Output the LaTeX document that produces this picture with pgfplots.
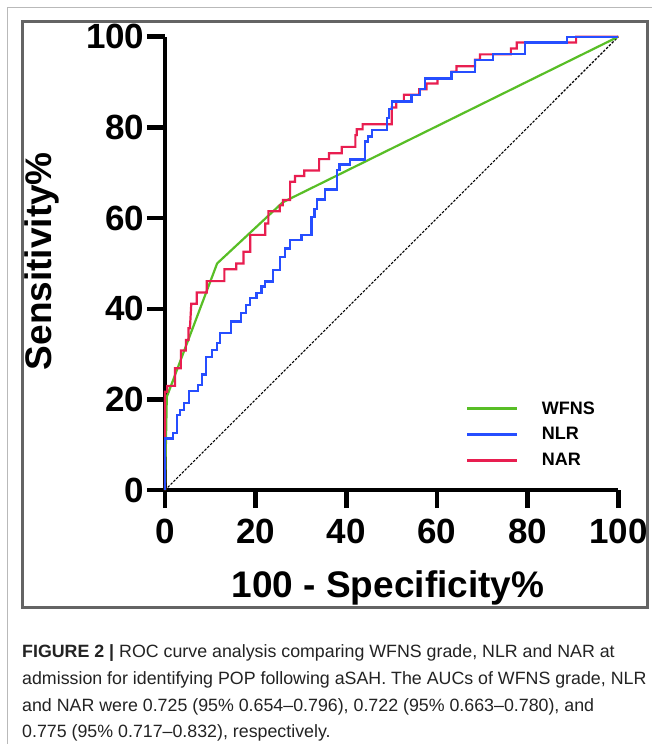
\documentclass[border=0pt]{standalone}
\usepackage{fontspec}
\setmainfont{Liberation Sans}
\usepackage{pgfplots}
\pgfplotsset{compat=1.18}
\definecolor{wfns}{RGB}{88,190,38}
\definecolor{nlr}{RGB}{38,78,255}
\definecolor{nar}{RGB}{232,30,80}
\definecolor{boxgray}{RGB}{100,100,100}
\definecolor{captext}{RGB}{35,35,35}

\begin{document}
\begin{tikzpicture}[x=1pt,y=1pt]
\useasboundingbox (0,0) rectangle (652,744);
\fill[white] (0,0) rectangle (652,744);
\draw[gray!55, line width=1pt] (7.5,0) -- (7.5,736.5) -- (652,736.5);
\draw[boxgray, line width=3pt] (22,136) rectangle (647,722);

\begin{axis}[
  at={(165pt,253.8pt)}, anchor=south west,
  scale only axis, width=453.3pt, height=453.5pt,
  xmin=0, xmax=100, ymin=0, ymax=100,
  clip=false,
  axis lines=left,
  axis line style={-, line width=4.5pt, black},
  xtick={0,20,...,100}, ytick={0,20,...,100},
  tick align=outside, major tick length=18pt,
  tick style={line width=4.5pt, black},
  ticklabel style={font=\fontsize{35}{35}\selectfont\bfseries},
  xticklabel style={yshift=-7pt},
  yticklabel style={xshift=1pt},
  /pgf/number format/assume math mode=true,
  xlabel={100 - Specificity\%}, ylabel={Sensitivity\%},
  label style={font=\fontsize{37}{37}\selectfont\bfseries},
  xlabel style={at={(axis description cs:0.492,-0.2355)}, anchor=base},
  ylabel style={at={(axis description cs:-0.2493,0.505)}, anchor=base},
  legend style={draw=none, fill=none, at={(axis cs:66.4,19.6)}, anchor=north west,
    inner sep=0pt, row sep=12pt, column sep=23.5pt,
    font=\fontsize{18}{18}\selectfont\bfseries, nodes={inner sep=0pt}},
  legend cell align=left,
  legend image code/.code={\draw[#1] (0pt,0pt) -- (50pt,0pt);},
]
% chance line
\addplot[black, line width=1.1pt, dash pattern=on 2.5pt off 1.5pt, forget plot]
  coordinates {(0,0) (100,100)};
% WFNS
\addplot[wfns, line width=2.2pt, forget plot] coordinates {
  (0,0) (0.4,20.6) (11.5,50.0) (26.0,63.5) (100,100)
};
% NAR
\addplot[nar, line width=2.2pt, forget plot] coordinates {
  (0,0) (0,21.7) (0.5,21.7) (0.5,23.0) (2.2,23.0) (2.2,26.9) (3.5,26.9)
  (3.5,30.8) (4.6,30.8) (4.6,33.1) (5.2,33.1) (5.2,35.7) (5.5,35.7)
  (5.8,41.1) (7.0,41.1) (7.0,43.6) (9.2,43.6) (9.2,46.1) (13.1,46.1)
  (13.1,48.7) (15.7,48.7) (15.7,50.0) (17.3,50.0) (17.3,52.6) (18.8,52.6)
  (18.8,56.3) (22.1,56.3) (22.1,58.8) (22.8,58.8) (22.8,61.5) (25.3,61.5)
  (25.3,62.8) (26.0,62.8) (26.0,64.0) (27.6,64.0) (27.6,68.0) (28.7,68.0)
  (28.7,69.3) (30.7,69.3) (30.7,70.5) (34.0,70.5) (34.0,73.0) (36.2,73.0)
  (36.2,74.3) (39.0,74.3) (39.0,75.7) (42.0,75.7) (42.0,78.3) (42.3,78.3)
  (42.3,79.6) (43.6,79.6) (43.6,80.7) (50.0,80.7) (50.0,84.4) (51.0,84.4)
  (51.0,85.7) (52.7,85.7) (52.7,87.2) (56.1,87.2) (56.1,88.4) (57.7,88.4)
  (57.7,89.7) (60.1,89.7) (60.1,90.8) (63.2,90.8) (63.2,92.3) (64.3,92.3)
  (64.3,93.5) (68.4,93.5) (68.4,94.9) (69.5,94.9) (69.5,96.1) (76.3,96.1)
  (76.3,97.4) (77.6,97.4) (77.6,98.7) (90.7,98.7) (90.7,100) (100,100)
};
% NLR
\addplot[nlr, line width=2.2pt, forget plot] coordinates {
  (0,0) (0,11.4) (1.7,11.4) (1.7,12.7) (2.7,12.7) (2.7,16.6) (3.3,16.6)
  (3.3,17.7) (4.2,17.7) (4.2,19.2) (5.3,19.2) (5.3,21.8) (7.2,21.8)
  (7.2,23.2) (8.1,23.2) (8.1,25.5) (9.0,25.5) (9.0,29.3) (10.3,29.3)
  (10.3,30.9) (11.5,30.9) (11.5,32.4) (12.1,32.4) (12.1,34.6) (14.5,34.6)
  (14.5,37.2) (16.7,37.2) (16.7,39.0) (17.9,39.0) (17.9,40.8) (18.8,40.8)
  (18.8,42.3) (20.2,42.3) (20.2,43.4) (21.3,43.4) (21.3,44.9) (22.1,44.9)
  (22.1,46.0) (23.9,46.0) (23.9,48.5) (25.4,48.5) (25.4,51.5) (26.5,51.5)
  (26.5,53.3) (27.6,53.3) (27.6,55.2) (30.1,55.2) (30.1,56.3) (32.3,56.3)
  (32.3,60.2) (33.0,60.2) (33.0,62.0) (33.6,62.0) (33.6,64.1) (35.3,64.1)
  (35.3,66.3) (37.9,66.3) (37.9,70.6) (38.5,70.6) (38.5,71.8) (40.8,71.8)
  (40.8,72.9) (44.1,72.9) (44.1,76.9) (44.8,76.9) (44.8,78.0) (45.6,78.0)
  (45.6,79.4) (48.9,79.4) (48.9,82.0) (49.4,82.0) (49.4,84.0) (50.0,84.0)
  (50.0,85.7) (54.4,85.7) (54.4,87.1) (56.3,87.1) (56.3,88.4) (57.4,88.4)
  (57.4,90.8) (63.2,90.8) (63.2,92.3) (68.4,92.3) (68.4,94.9) (72.4,94.9)
  (72.4,96.1) (79.4,96.1) (79.4,98.7) (88.6,98.7) (88.6,100) (100,100)
};
\addlegendimage{wfns, line width=2.2pt}
\addlegendentry{WFNS}
\addlegendimage{nlr, line width=2.2pt}
\addlegendentry{NLR}
\addlegendimage{nar, line width=2.2pt}
\addlegendentry{NAR}
\end{axis}

\begin{scope}[every node/.style={anchor=base west, inner sep=0pt,
    font=\fontsize{17.8}{17.8}\selectfont, text=captext}]
\node at (22,86) {\textbf{FIGURE 2 |} ROC curve analysis comparing WFNS grade, NLR and NAR at};
\node at (22,59.3) {admission for identifying POP following aSAH. The AUCs of WFNS grade, NLR};
\node at (22,32.5) {and NAR were 0.725 (95\% 0.654--0.796), 0.722 (95\% 0.663--0.780), and};
\node at (22,6) {0.775 (95\% 0.717--0.832), respectively.};
\end{scope}
\end{tikzpicture}
\end{document}
